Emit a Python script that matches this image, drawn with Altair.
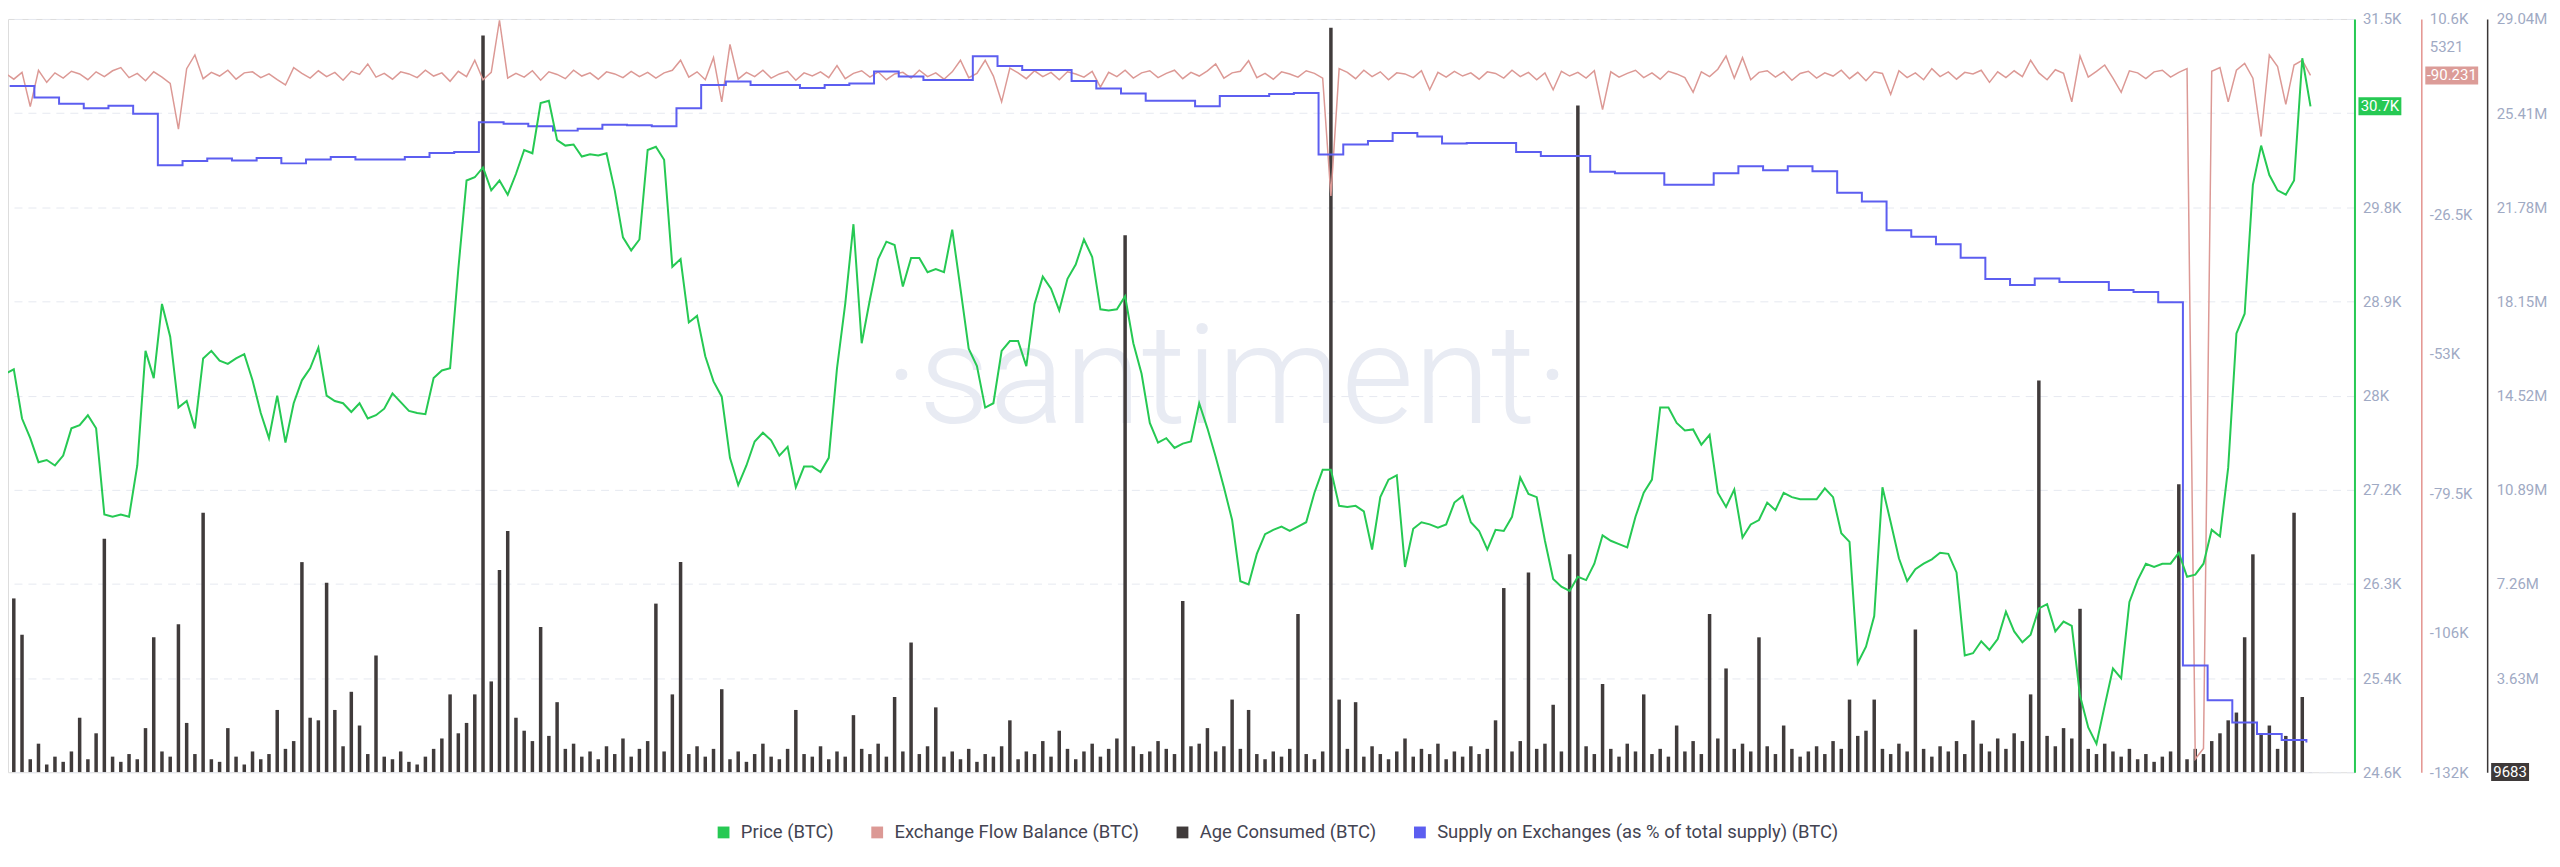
import json
import altair as alt
import pandas as pd

# ---------------- data ----------------
# BTC price, one value every 8 hours from 2023-03-22 08:00 UTC
price = [
    28230, 28270, 27820, 27640, 27420, 27440, 27390, 27480, 27730, 27760, 27850, 27730, 26940, 26920, 26940, 26920, 27390, 28440, 28190, 28870,
    28570, 27920, 27980, 27730, 28370, 28440, 28350, 28320, 28370, 28410, 28170, 27870, 27640, 28030, 27600, 27960, 28170, 28280, 28470, 28030,
    27980, 27960, 27880, 27960, 27820, 27850, 27910, 28050, 27970, 27890, 27870, 27860, 28190, 28260, 28280, 29190, 30000, 30030, 30120, 29910,
    30000, 29870, 30060, 30280, 30250, 30710, 30730, 30370, 30320, 30330, 30220, 30240, 30230, 30250, 29910, 29480, 29360, 29460, 30280, 30310,
    30190, 29210, 29280, 28700, 28760, 28390, 28160, 28020, 27460, 27210, 27390, 27610, 27690, 27620, 27480, 27560, 27190, 27380, 27380, 27330,
    27460, 28280, 28870, 29600, 28510, 28910, 29280, 29440, 29410, 29030, 29290, 29290, 29160, 29190, 29160, 29550, 29010, 28460, 28300, 27920,
    27960, 28440, 28530, 28530, 28300, 28870, 29120, 29010, 28810, 29100, 29230, 29460, 29300, 28820, 28810, 28820, 28940, 28510, 28230, 27780,
    27600,
    27640, 27550, 27590, 27610, 27960, 27730, 27470, 27190, 26890, 26330, 26300, 26580, 26760, 26800, 26830, 26790, 26830, 26870, 27140, 27350,
    27350, 27020, 27010, 27020, 26970, 26620, 27100, 27260, 27300, 26460, 26810, 26870, 26850, 26820, 26850, 27050, 27110, 26870, 26790, 26620,
    26800, 26790, 26920, 27280, 27130, 27100, 26700, 26350, 26280, 26240, 26370, 26340, 26490, 26750, 26700, 26670, 26640, 26920, 27140, 27260,
    27920, 27920, 27780, 27710, 27720, 27580, 27670, 27140, 27010, 27170, 26730, 26850, 26890, 27050, 26980, 27140, 27100, 27080, 27080, 27080,
    27180, 27100, 26770, 26690, 25580, 25730, 26010, 27190, 26870, 26540, 26330, 26440, 26490, 26530, 26590, 26580, 26410, 25650, 25670, 25780,
    25700, 25800, 26050, 25870, 25770, 25840, 26080, 26120, 25870, 25960, 25920, 25280, 24990, 24840, 25190, 25530, 25440, 26140, 26340, 26490,
    26460, 26490, 26490, 26590, 26370, 26390, 26490, 26800, 26740, 27370, 28600, 28780, 29960, 30320, 30050, 29910, 29870, 30000, 31120, 30680,
]

# Exchange flow balance, thousand BTC, every 8 hours
flow_k = [
    0.3, -0.8, 0.5, -6.0, 0.9, -1.4, 0.4, -0.6, 0.7, 0.2, -0.9, 0.6, -0.3, 0.8, 1.4, -0.5, 0.3, -1.1, 0.6, -0.4,
    -1.6, -10.3, 1.2, 3.8, -0.7, 0.5, -0.2, 0.9, -0.8, 0.4, 0.6, -0.5, 0.2, -0.9, -1.9, 1.4, 0.3, -0.6, 0.8, -0.3,
    0.5, -1.0, 0.7, 0.1, 2.1, -0.4, 0.3, -0.8, 0.6, 0.2, -0.5, 0.9, -0.2, 0.4, -1.2, 0.7, -0.3, 2.8, -0.9, 0.5,
    10.4, -0.6, 0.3, -0.4, 0.8, -1.0, 0.6, 0.1, -0.7, 0.9, -0.2, 0.4, -0.8, 0.6, 0.2, -0.5, 0.7, -0.3, 0.5, -0.6,
    0.4, 0.9, 2.8, -0.4, 0.6, -0.9, 3.3, -5.1, 5.8, -0.8, 0.5, -0.3, 0.9, -0.6, 0.2, 0.7, -1.0, 0.4, -0.2, 0.6,
    -0.5, 1.8, -0.7, 0.3, 0.8, -0.4, 0.6, -0.9, 0.2, 0.5, -0.6, 0.9, -0.3, 0.4, -0.8, 0.6, 2.8, -0.5, 0.3, 2.8,
    -0.2, -5.1, 1.3, 0.4, -0.7, 0.8, -0.3, 0.5, -0.9, 0.6, 0.2, -0.4, 0.7, -2.3, 0.5, -0.3, 0.9, -0.6, 0.4, 0.8,
    -0.5, 0.3, 0.9, -0.7, 0.5, -0.2, 0.8, 2.1, -0.6, 0.4, 0.7, 2.7, -0.5, 0.3, -0.8, 0.6, 0.2, -0.4, 0.8, 0.3,
    -0.6, -23.0, 1.2, 0.5, -0.7, 0.9, -0.3, 0.6, -0.9, 0.4, 0.2, -0.5, 0.8, -2.8, 0.5, -0.4, 0.7, -0.2, 0.4, -0.8,
    0.6, 0.3, -0.6, 0.9, -0.3, 0.5, -0.9, 0.4, -2.8, 0.7, -0.2, 0.5, -0.6, 0.8, -6.6, 0.6, -0.4, 0.3, 0.9, -0.5,
    0.4, -0.8, 0.7, 0.2, -0.5, -3.3, 0.6, -0.3, 1.1, 3.6, -0.6, 3.3, -0.9, 0.5, 0.8, -0.4, 0.6, -1.0, 0.3, 0.7,
    -0.6, 0.4, -0.2, 0.9, -0.7, 0.5, -1.1, 0.6, 0.3, -3.7, 0.8, -0.5, 0.4, -0.9, 1.2, -0.3, 0.6, -0.8, 0.5, 0.2,
    0.9, -1.4, 0.6, -0.5, 0.8, -0.3, 2.8, 0.4, -0.9, 1.0, 0.3, -5.1, 3.6, -0.4, 0.7, 1.9, -0.6, -3.3, 0.8, 0.4,
    -0.7, 0.6, 0.9, -0.4, 0.5, 1.2, -130.0, -128.0, 0.7, 1.4, -5.1, 0.9, 2.2, -0.6, -11.7, 3.8, 1.6, -5.6, 1.9, 2.8,
    -0.090231,
]

# Age consumed, million, every 8 hours
age_m = [
    0.4, 6.7, 5.3, 0.5, 1.1, 0.3, 0.6, 0.4, 0.8, 2.1, 0.5, 1.5, 9.0, 0.6, 0.4, 0.7, 0.5, 1.7, 5.2, 0.8,
    0.6, 5.7, 1.9, 0.7, 10.0, 0.5, 0.4, 1.7, 0.6, 0.3, 0.8, 0.5, 0.7, 2.4, 0.9, 1.2, 8.1, 2.1, 2.0, 7.3,
    2.4, 1.0, 3.1, 1.8, 0.7, 4.5, 0.6, 0.5, 0.8, 0.4, 0.3, 0.6, 0.9, 1.3, 3.0, 1.5, 1.9, 3.0, 28.4, 3.5,
    7.8, 9.3, 2.1, 1.6, 1.2, 5.6, 1.4, 2.7, 0.9, 1.1, 0.6, 0.8, 0.5, 1.0, 0.7, 1.3, 0.6, 0.9, 1.2, 6.5,
    0.8, 3.0, 8.1, 0.7, 1.0, 0.6, 0.9, 3.2, 0.5, 0.8, 0.4, 0.7, 1.1, 0.6, 0.5, 0.9, 2.4, 0.7, 0.6, 1.0,
    0.5, 0.8, 0.6, 2.2, 0.9, 0.7, 1.1, 0.6, 2.9, 0.8, 5.0, 0.7, 1.0, 2.5, 0.6, 0.8, 0.5, 0.9, 0.4, 0.7,
    0.6, 1.0, 2.0, 0.5, 0.8, 0.7, 1.2, 0.6, 1.6, 0.9, 0.5, 0.8, 1.1, 0.6, 0.9, 1.3, 20.7, 1.0, 0.7, 0.8,
    1.2, 0.9, 0.7, 6.6, 1.0, 1.1, 1.7, 0.8, 1.0, 2.8, 0.9, 2.4, 0.7, 0.5, 0.8, 0.6, 0.9, 6.1, 0.7, 0.5,
    0.8, 28.7, 2.8, 0.9, 2.7, 0.6, 1.0, 0.7, 0.5, 0.8, 1.3, 0.6, 0.9, 0.7, 1.1, 0.5, 0.8, 0.6, 1.0, 0.7,
    0.9, 2.0, 7.1, 0.8, 1.2, 7.7, 0.9, 1.1, 2.6, 0.8, 8.4, 25.7, 1.0, 0.7, 3.4, 0.9, 0.6, 1.1, 0.8, 3.0,
    0.7, 0.9, 0.6, 1.8, 0.8, 1.2, 0.7, 6.1, 1.3, 4.0, 0.9, 1.1, 0.8, 5.2, 1.0, 0.7, 1.8, 0.9, 0.6, 0.8,
    1.0, 0.7, 1.2, 0.9, 2.8, 1.4, 1.6, 2.8, 0.9, 0.7, 1.1, 0.8, 5.5, 0.9, 0.6, 1.0, 0.8, 1.2, 0.7, 2.0,
    1.1, 0.8, 1.3, 0.9, 1.5, 1.2, 3.0, 15.1, 1.4, 1.0, 1.7, 1.3, 6.3, 0.9, 0.7, 1.1, 0.8, 0.6, 0.9, 0.5,
    0.7, 0.4, 0.6, 0.8, 11.1, 0.5, 0.9, 0.7, 1.2, 1.5, 2.0, 2.3, 5.2, 8.4, 1.5, 1.8, 0.9, 1.4, 10.0, 2.9,
    0.009683,
]

# Supply on exchanges (% of total supply), daily from 2023-03-22 12:00 UTC
supply_pct = [
    6.265, 6.242, 6.229, 6.220, 6.225, 6.209, 6.105, 6.114, 6.119, 6.115,
    6.120, 6.109, 6.117, 6.122, 6.117, 6.117, 6.122, 6.130, 6.132, 6.192,
    6.189, 6.184, 6.175, 6.179, 6.187, 6.186, 6.184, 6.220, 6.267, 6.274,
    6.267, 6.267, 6.261, 6.267, 6.270, 6.294, 6.284, 6.277, 6.277, 6.325,
    6.305, 6.297, 6.297, 6.275, 6.260, 6.250, 6.235, 6.235, 6.224, 6.245,
    6.245, 6.249, 6.251, 6.127, 6.147, 6.154, 6.170, 6.163, 6.149, 6.150,
    6.150, 6.132, 6.124, 6.124, 6.092, 6.089, 6.089, 6.066, 6.066, 6.089,
    6.103, 6.095, 6.103, 6.093, 6.050, 6.032, 5.974, 5.961, 5.946, 5.919,
    5.876, 5.864, 5.877, 5.870, 5.870, 5.854, 5.850, 5.829, 5.097, 5.027,
    4.982, 4.959, 4.947, 4.942,
]

series_names = ["Price (BTC)", "Exchange Flow Balance (BTC)", "Age Consumed (BTC)",
                "Supply on Exchanges (as % of total supply) (BTC)"]
series_colors = ["#26c953", "#dc9995", "#403b3b", "#5c5ef0"]

price_ticks = [24580 + 862.5 * k for k in range(9)]
price_tick_labels = ["24.6K", "25.4K", "26.3K", "27.2K", "28K", "28.9K", "29.8K", "", "31.5K"]
flow_ticks = [10642, 5321, -26500, -53000, -79500, -106000, -132500]
flow_tick_labels = ["10.6K", "5321", "-26.5K", "-53K", "-79.5K", "-106K", "-132K"]
age_ticks = [3630000 * k for k in range(9)]
age_tick_labels = ["", "3.63M", "7.26M", "10.89M", "14.52M", "18.15M", "21.78M", "25.41M", "29.04M"]

date_tick_start = "2023-03-23T19:12:00Z"
date_tick_step_hours = 186.3
date_tick_count = 13
x_domain = ["2023-03-22T15:13:00Z", "2023-06-25T05:52:00Z"]


def ms(ts):
    return int(pd.Timestamp(ts).value // 10**6)


def ms_range(start, n, hours):
    t0 = pd.Timestamp(start)
    return [int((t0 + pd.Timedelta(hours=hours * k)).value // 10**6) for k in range(n)]


def lookup_expr(values, labels):
    return f"{json.dumps(labels)}[indexof({json.dumps(values)}, datum.value)]"


df_price = pd.DataFrame({"t": ms_range("2023-03-22T08:00:00Z", len(price), 8), "price": price})
df_flow = pd.DataFrame({"t": ms_range("2023-03-22T08:00:00Z", len(flow_k), 8),
                        "flow": [v * 1000 for v in flow_k]})
df_age = pd.DataFrame({"t": ms_range("2023-03-22T08:00:00Z", len(age_m), 8),
                       "age": [v * 1e6 for v in age_m]})
df_supply = pd.DataFrame({"t": ms_range("2023-03-22T12:00:00Z", len(supply_pct), 24),
                          "supply": supply_pct})

last = pd.DataFrame({
    "price": [price[-1]], "flow": [flow_k[-1] * 1000], "age": [age_m[-1] * 1e6],
    "price_label": [f"{price[-1] / 1000:.1f}K"],
    "flow_label": [f"{flow_k[-1] * 1000:.3f}"],
    "age_label": [f"{age_m[-1] * 1e6:.0f}"],
})

# ---------------- styling ----------------
W, H = 2352, 755
FONT = "Roboto"
LABEL_COLOR = "#9faac4"
GRID_COLOR = "#e6e9f0"
G, R, A, B = series_colors

xscale = alt.Scale(type="utc", domain=[ms(x_domain[0]), ms(x_domain[1])])
x_axis = alt.Axis(
    values=ms_range(date_tick_start, date_tick_count, date_tick_step_hours),
    labelExpr="utcFormat(datum.value, '%d %b %y')",
    labelColor=LABEL_COLOR, labelFontSize=15, labelFont=FONT, labelPadding=6,
    labelFlush=False, labelOverlap=False,
    ticks=False, domain=True, domainColor=GRID_COLOR,
    grid=True, gridColor=GRID_COLOR, gridDash=[8, 6], gridWidth=1,
)
x_main = alt.X("t:T", scale=xscale, axis=x_axis, title=None)
x_plain = alt.X("t:T", scale=xscale, axis=None, title=None)

price_scale = alt.Scale(domain=[24580, 31480], nice=False, zero=False)
flow_scale = alt.Scale(domain=[-132500, 10642], nice=False, zero=False)
age_scale = alt.Scale(domain=[0, 29040000], nice=False, zero=False)
supply_scale = alt.Scale(domain=[4.882, 6.40], nice=False, zero=False)

price_axis = alt.Axis(
    orient="right", offset=0, values=price_ticks,
    labelExpr=lookup_expr(price_ticks, price_tick_labels),
    domainColor=G, domainWidth=2, ticks=False, labelPadding=8,
    labelColor=LABEL_COLOR, labelFontSize=15, labelFont=FONT, labelOverlap=False,
    labelFlush=False,
    grid=True, gridColor=GRID_COLOR, gridDash=[8, 6], gridWidth=1,
)
flow_axis = alt.Axis(
    orient="right", offset=67, values=flow_ticks,
    labelExpr=lookup_expr(flow_ticks, flow_tick_labels),
    domainColor="#e4938f", domainWidth=1.5, ticks=False, labelPadding=8,
    labelColor=LABEL_COLOR, labelFontSize=15, labelFont=FONT, labelOverlap=False,
    labelFlush=False, grid=False,
)
age_axis = alt.Axis(
    orient="right", offset=133, values=age_ticks,
    labelExpr=lookup_expr(age_ticks, age_tick_labels),
    domainColor="#3a3636", domainWidth=1.5, ticks=False, labelPadding=9,
    labelColor=LABEL_COLOR, labelFontSize=15, labelFont=FONT, labelOverlap=False,
    labelFlush=False, grid=False,
)

# ---------------- layers ----------------
watermark = alt.Chart(pd.DataFrame({"w": ["\u00b7santiment\u00b7"]})).mark_text(
    font=FONT, fontSize=140, fontWeight=300, color="#e8ebf3", align="center", baseline="alphabetic"
).encode(text="w:N", x=alt.value(1222), y=alt.value(405))

age_bars = alt.Chart(df_age).mark_bar(color=A, size=3.5, clip=True).encode(
    x=x_plain, y=alt.Y("age:Q", scale=age_scale, axis=age_axis, title=None)
)
flow_line = alt.Chart(df_flow).mark_line(color=R, strokeWidth=1.5, clip=True).encode(
    x=x_plain, y=alt.Y("flow:Q", scale=flow_scale, axis=flow_axis, title=None)
)
supply_line = alt.Chart(df_supply).mark_line(
    color=B, strokeWidth=2, interpolate="step-after", clip=True
).encode(x=x_plain, y=alt.Y("supply:Q", scale=supply_scale, axis=None, title=None))
price_line = alt.Chart(df_price).mark_line(color=G, strokeWidth=2, clip=True).encode(
    x=x_main, y=alt.Y("price:Q", scale=price_scale, axis=price_axis, title=None)
)


def badge(field, scale, color, x0, x1, label_field):
    rect = alt.Chart(last).mark_rect(color=color, yOffset=-9, y2Offset=9).encode(
        x=alt.value(x0), x2=alt.value(x1),
        y=alt.Y(f"{field}:Q", scale=scale, axis=None, title=None), y2=alt.Y2(f"{field}:Q"),
    )
    txt = alt.Chart(last).mark_text(
        color="white", font=FONT, fontSize=15, align="center", baseline="middle"
    ).encode(
        x=alt.value((x0 + x1) / 2),
        y=alt.Y(f"{field}:Q", scale=scale, axis=None, title=None),
        text=f"{label_field}:N",
    )
    return [rect, txt]


badges = (badge("price", price_scale, G, W + 4, W + 47, "price_label")
          + badge("flow", flow_scale, "#dc9c98", W + 71, W + 124, "flow_label")
          + badge("age", age_scale, "#3e3939", W + 137, W + 175, "age_label"))

legend_layer = alt.Chart(pd.DataFrame({"series": series_names})).mark_square(size=0).encode(
    color=alt.Color(
        "series:N",
        scale=alt.Scale(domain=series_names, range=series_colors),
        legend=alt.Legend(
            orient="none", legendX=708, legendY=806, direction="horizontal", columns=4,
            symbolType="square", symbolSize=140, symbolOpacity=1, symbolStrokeWidth=0,
            labelFont=FONT, labelFontSize=18.5, labelColor="#444452", labelLimit=900,
            labelOffset=8, columnPadding=34, padding=0, title=None,
        ),
    )
)

chart = alt.layer(
    watermark, age_bars, flow_line, supply_line, price_line, *badges, legend_layer
).resolve_scale(y="independent").properties(
    width=W, height=H,
    padding={"left": 0, "top": 10, "right": 198, "bottom": 90},
    autosize=alt.AutoSizeParams(type="none"),
).configure_view(stroke=None).configure(background="white")

chart.save("out.html", embed_options={"renderer": "svg", "actions": False})
